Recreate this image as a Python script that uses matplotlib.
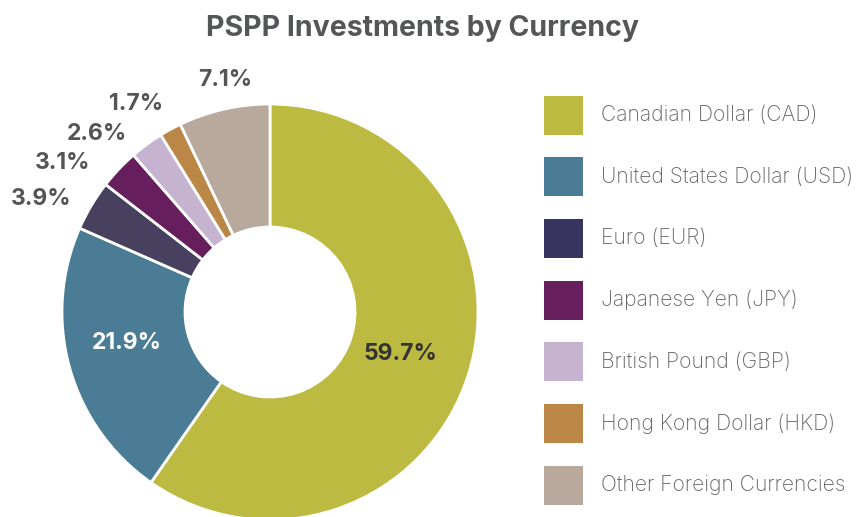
import matplotlib.pyplot as plt
import matplotlib.patches as patches

# Currency breakdown (%)
labels = ['Canadian Dollar (CAD)', 'United States Dollar (USD)', 'Euro (EUR)',
          'Japanese Yen (JPY)', 'British Pound (GBP)', 'Hong Kong Dollar (HKD)',
          'Other Foreign Currencies']
values = [59.7, 21.9, 3.9, 3.1, 2.6, 1.7, 7.1]
colors = ['#BDBA42', '#4A7C95', '#48405F', '#661F5C', '#C5B3D0', '#BA8747', '#B8A99C']
legend_colors = ['#BDBA42', '#4A7C95', '#37345F', '#661F5C', '#C5B3D0', '#BA8747', '#B8A99C']

plt.rcParams['font.family'] = ['Inter', 'DejaVu Sans']

W, H = 863, 517
fig = plt.figure(figsize=(W / 100, H / 100), dpi=100)
ax = fig.add_axes([0, 0, 1, 1])

cx, cy, r = 270, H - 312, 208
ax.pie(values, colors=colors, startangle=90, counterclock=False,
       center=(cx, cy), radius=r, frame=True,
       wedgeprops=dict(width=123, edgecolor='white', linewidth=2))
ax.set_xlim(0, W)
ax.set_ylim(0, H)
ax.set_aspect('equal')
ax.axis('off')

# percentage labels (pixel positions from top-left)
lab_pos = [(400, 354, '#333333'), (127, 343, 'white'), (41, 199, '#555555'),
           (63, 163, '#555555'), (97, 134, '#555555'), (136, 104, '#555555'),
           (225, 80, '#555555')]
for v, (x, y, c) in zip(values, lab_pos):
    ax.text(x, H - y, f'{v}%', ha='center', va='center', fontsize=16.5,
            fontweight='bold', color=c)

ax.text(422, H - 28, 'PSPP Investments by Currency', ha='center', va='center',
        fontsize=20.5, fontweight='bold', color='#555659')

# legend
for i, (lab, c) in enumerate(zip(labels, legend_colors)):
    yc = 115 + i * 61.7
    ax.add_patch(patches.Rectangle((544, H - yc - 19.5), 39, 39, facecolor=c,
                                   edgecolor='none'))
    ax.text(601, H - yc, lab, ha='left', va='center', fontsize=15.2,
            fontweight='light', color='#666666')

fig.savefig('out.png', dpi=100)
